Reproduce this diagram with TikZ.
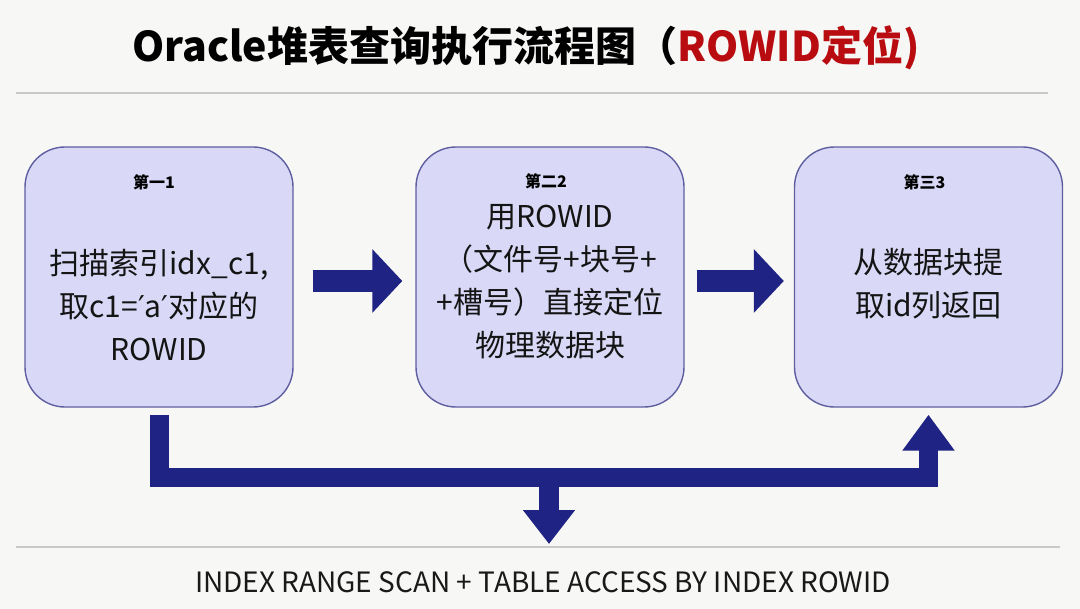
\documentclass[tikz,border=0pt]{standalone}
\usepackage{fontspec}
\setmainfont{Noto Sans CJK SC}
\newfontfamily\quotefont{DejaVu Sans}
\usepackage{tikz}
\usetikzlibrary{arrows.meta, positioning, calc}
\definecolor{Navy}{HTML}{1F2383}
\definecolor{Lavender}{HTML}{D9D9F7}
\definecolor{Frame}{HTML}{5E5EA0}
\definecolor{Crimson}{HTML}{B80C10}
\definecolor{PageBg}{HTML}{F7F7F5}
\definecolor{Rule}{HTML}{C9C9C6}
\newcommand{\primemark}{{\quotefont ′}}
\tikzset{
  stepbox/.style={rectangle, rounded corners=20pt, draw=Frame, fill=Lavender,
                  line width=0.7pt, minimum width=134pt, minimum height=130pt},
  steplbl/.style={font=\fontsize{8}{9}\selectfont\bfseries, text=black},
  steptxt/.style={font=\fontsize{15}{21.5}\selectfont, align=center, text=black!92},
  fatarrow/.style={draw=Navy, line width=11pt, -{Triangle[length=15pt, width=31pt]}},
}

\begin{document}
\begin{tikzpicture}[
        x=0.5pt, y=-0.5pt,
        busline/.style={draw=Navy, line width=9.5pt, miter limit=4,
                        line join=miter, -{Triangle[length=18pt, width=25pt]}},
        droparrow/.style={draw=Navy, line width=10pt, -{Triangle[length=17pt, width=25pt]}}
      ]
        \fill[PageBg] (0,0) rectangle (1080,609);
        \useasboundingbox (0,0) rectangle (1080,609);
        % title
        \node[font=\fontsize{20.5}{24}\selectfont\bfseries] (title) at (526,48)
          {Oracle堆表查询执行流程图（\textcolor{Crimson}{ROWID定位)}};
        \draw[Rule, line width=1pt] (16,93) -- (1048,93);
        % three steps
        \node[stepbox] (b1) at (159,277) {};
        \node[stepbox] (b2) at (550,277) {};
        \node[stepbox] (b3) at (928.5,277) {};
        \node[steplbl] (l1) at ([xshift=-2.5pt, yshift=-18pt]b1.north) {第一1};
        \node[steplbl] (l2) at ([xshift=-2pt, yshift=-17.5pt]b2.north) {第二2};
        \node[steplbl] (l3) at ([xshift=-2pt, yshift=-18pt]b3.north) {第三3};
        \node[steptxt] (t1) at ([yshift=-14pt]b1.center)
          {扫描索引idx\_c1,\\取c1=\primemark a\primemark 对应的\\ROWID};
        \node[steptxt] (t2) at ([yshift=-2.5pt]b2.center)
          {用ROWID\\（文件号+块号+\\+槽号）直接定位\\物理数据块};
        \node[steptxt] (t3) at ([yshift=-3.5pt]b3.center)
          {从数据块提\\取id列返回};
        \draw[fatarrow, shorten <=9.5pt, shorten >=6.5pt]
          ([yshift=-2pt]b1.east) -- ([yshift=-2pt]b2.west);
        \draw[fatarrow, shorten <=6pt, shorten >=5pt]
          ([yshift=-2pt]b2.east) -- ([yshift=-2pt]b3.west);
        % bottom bus
        \coordinate (bus) at (549,477);
        \coordinate (out) at (549,544);
        \draw[busline, shorten <=3.5pt, shorten >=3.5pt]
          (b1.south) |- (bus) -| (b3.south);
        \draw[droparrow] (bus) -- (out);
        \draw[Rule, line width=1pt] (16,547) -- (1060,547);
        \node[font=\fontsize{14}{17}\selectfont, text=black!90] (plan) at (543,582)
          {INDEX RANGE SCAN + TABLE ACCESS BY INDEX ROWID};
\end{tikzpicture}
\end{document}
